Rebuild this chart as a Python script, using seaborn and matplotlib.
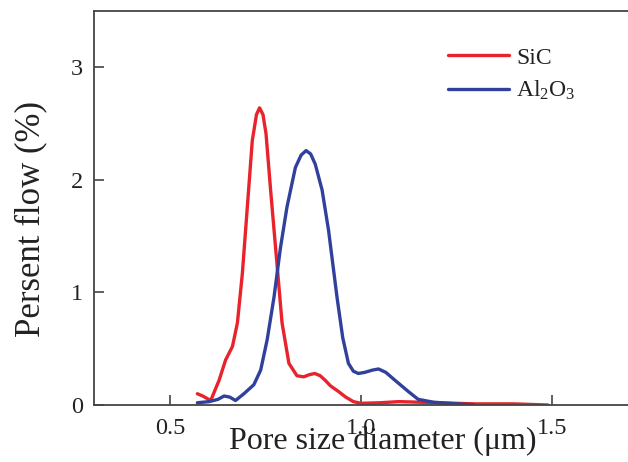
import numpy as np
import pandas as pd
import matplotlib
matplotlib.use("Agg")
import matplotlib.pyplot as plt
import seaborn as sns

# ---- data ----
sic_x = [0.571, 0.585, 0.606, 0.628, 0.645, 0.663, 0.676, 0.689, 0.702, 0.715, 0.726,
         0.734, 0.743, 0.751, 0.763, 0.778, 0.793, 0.811, 0.832, 0.850, 0.865, 0.879,
         0.893, 0.906, 0.920, 0.941, 0.960, 0.980, 1.00, 1.05, 1.10, 1.15, 1.20, 1.30, 1.40, 1.49]
sic_y = [0.10, 0.08, 0.04, 0.22, 0.40, 0.52, 0.73, 1.17, 1.76, 2.35, 2.58,
         2.64, 2.58, 2.41, 1.91, 1.32, 0.73, 0.37, 0.26, 0.25, 0.27, 0.28,
         0.26, 0.22, 0.17, 0.12, 0.07, 0.03, 0.015, 0.02, 0.03, 0.025, 0.02, 0.01, 0.01, 0.0]

al_x = [0.571, 0.602, 0.625, 0.641, 0.656, 0.671, 0.693, 0.719, 0.737, 0.754, 0.772,
        0.789, 0.806, 0.828, 0.843, 0.856, 0.868, 0.880, 0.898, 0.915, 0.937, 0.952,
        0.967, 0.980, 0.993, 1.010, 1.030, 1.046, 1.065, 1.089, 1.124, 1.150, 1.190, 1.230, 1.298]
al_y = [0.02, 0.03, 0.05, 0.08, 0.07, 0.04, 0.10, 0.18, 0.31, 0.58, 0.96,
        1.40, 1.76, 2.11, 2.22, 2.26, 2.23, 2.14, 1.91, 1.55, 0.96, 0.60,
        0.37, 0.30, 0.28, 0.29, 0.31, 0.32, 0.29, 0.22, 0.12, 0.05, 0.025, 0.015, 0.0]

series_names = ["SiC", r"Al$_2$O$_3$"]
x_ticks = [0.5, 1.0, 1.5]
x_tick_labels = ["0.5", "1.0", "1.5"]
y_ticks = [0, 1, 2, 3]

df = pd.concat([
    pd.DataFrame({"x": sic_x, "y": sic_y, "material": series_names[0]}),
    pd.DataFrame({"x": al_x, "y": al_y, "material": series_names[1]}),
], ignore_index=True)

sns.set_style("ticks")
plt.rcParams["font.family"] = ["Liberation Serif", "DejaVu Serif"]
plt.rcParams["mathtext.fontset"] = "custom"
plt.rcParams["mathtext.rm"] = "Liberation Serif"
plt.rcParams["mathtext.it"] = "Liberation Serif:italic"

fig = plt.figure(figsize=(6.28, 4.62), dpi=100)
ax = fig.add_axes([94 / 628, 57 / 462, 1 - 94 / 628, (405 - 11) / 462])

palette = {series_names[0]: "#e8232b", series_names[1]: "#30409c"}
sns.lineplot(data=df, x="x", y="y", hue="material", palette=palette,
             estimator=None, sort=False, linewidth=2.4, ax=ax)

ax.set_xlim(0.3, 1.7)
ax.set_ylim(0, 3.5)
ax.set_xticks(x_ticks)
ax.set_xticklabels(x_tick_labels)
ax.set_yticks(y_ticks)
ax.tick_params(direction="in", length=7, width=1.2, color="#444444",
               labelsize=17.5, labelcolor="#222222")
ax.tick_params(axis="x", pad=9)
ax.tick_params(axis="y", pad=8)

for side in ["left", "top", "bottom"]:
    ax.spines[side].set_color("#444444")
    ax.spines[side].set_linewidth(1.3)
ax.spines["right"].set_visible(False)

ax.set_xlabel("Pore size diameter (μm)", fontsize=23, color="#222222")
ax.xaxis.set_label_coords((383 - 94) / 534, -(427 - 405) / 394)
ax.set_ylabel("Persent flow (%)", fontsize=25, color="#222222")
ax.yaxis.set_label_coords((47 - 94) / 534, (405 - 219) / 394)

leg = ax.legend(loc="upper left", bbox_to_anchor=((448 - 94) / 534, (405 - 47) / 394),
                frameon=False, fontsize=17, handlelength=2.6, handletextpad=0.3,
                labelspacing=0.44, borderpad=0, borderaxespad=0)
for t in leg.get_texts():
    t.set_color("#222222")
for l in leg.get_lines():
    l.set_linewidth(2.4)

fig.savefig("out.png", dpi=100)
